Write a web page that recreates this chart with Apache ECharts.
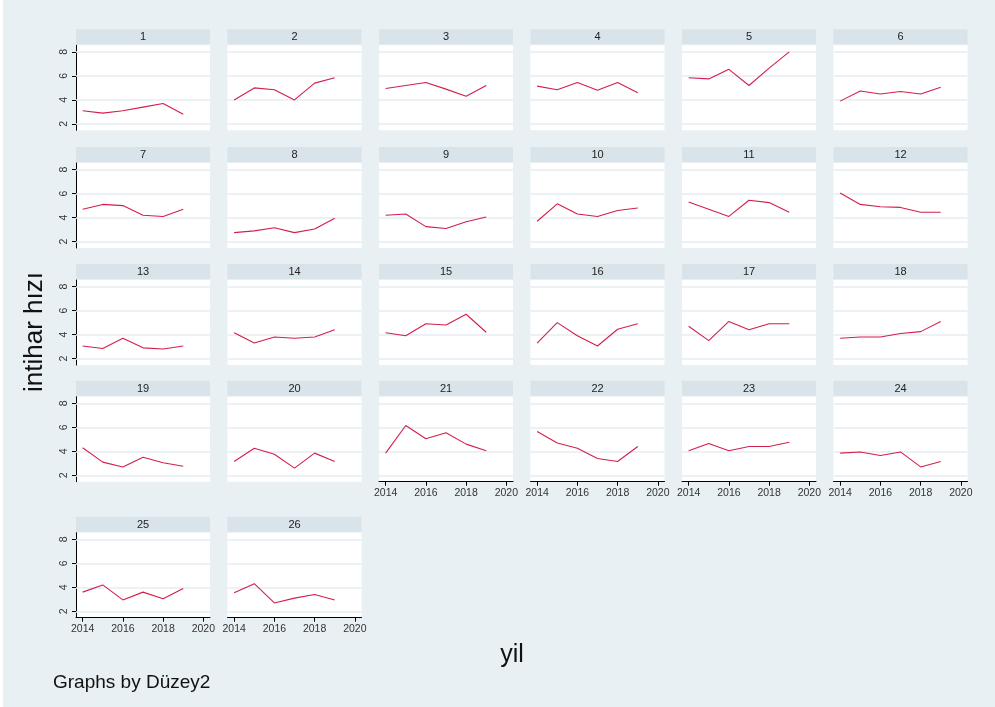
<!DOCTYPE html>
<html>
<head>
<meta charset="utf-8">
<script src="https://cdn.jsdelivr.net/npm/echarts@6/dist/echarts.min.js"></script>
<style>
html,body{margin:0;padding:0;background:#ffffff;}
#wrap{position:absolute;left:3px;top:0;width:992px;height:707px;background:#e8f0f3;}
#chart{width:992px;height:707px;}
</style>
</head>
<body>
<div id="wrap"><div id="chart"></div></div>
<script>
// ---- data ----
const years = [2014, 2015, 2016, 2017, 2018, 2019];
const panelLabels = ["1","2","3","4","5","6","7","8","9","10","11","12","13","14","15","16","17","18","19","20","21","22","23","24","25","26"];
const p1  = [3.1, 2.9, 3.1, 3.4, 3.7, 2.8];
const p2  = [4.0, 5.0, 4.85, 4.0, 5.4, 5.85];
const p3  = [4.95, 5.2, 5.45, 4.9, 4.3, 5.2];
const p4  = [5.15, 4.85, 5.45, 4.8, 5.45, 4.6];
const p5  = [5.85, 5.75, 6.55, 5.2, 6.65, 8.0];
const p6  = [3.9, 4.75, 4.5, 4.7, 4.5, 5.05];
const p7  = [4.7, 5.1, 5.0, 4.2, 4.1, 4.7];
const p8  = [2.75, 2.9, 3.15, 2.75, 3.05, 3.95];
const p9  = [4.2, 4.3, 3.25, 3.1, 3.65, 4.05];
const p10 = [3.7, 5.15, 4.3, 4.1, 4.6, 4.8];
const p11 = [5.3, 4.7, 4.1, 5.45, 5.25, 4.45];
const p12 = [6.05, 5.1, 4.9, 4.85, 4.45, 4.45];
const p13 = [3.05, 2.85, 3.7, 2.9, 2.8, 3.05];
const p14 = [4.15, 3.3, 3.8, 3.7, 3.8, 4.4];
const p15 = [4.15, 3.9, 4.9, 4.8, 5.7, 4.2];
const p16 = [3.3, 5.0, 3.9, 3.05, 4.45, 4.9];
const p17 = [4.7, 3.5, 5.1, 4.4, 4.9, 4.9];
const p18 = [3.7, 3.8, 3.8, 4.1, 4.25, 5.1];
const p19 = [4.3, 3.1, 2.7, 3.5, 3.05, 2.75];
const p20 = [3.15, 4.25, 3.75, 2.6, 3.85, 3.15];
const p21 = [3.85, 6.15, 5.05, 5.55, 4.6, 4.05];
const p22 = [5.65, 4.7, 4.25, 3.4, 3.15, 4.4];
const p23 = [4.05, 4.65, 4.05, 4.4, 4.4, 4.75];
const p24 = [3.85, 3.95, 3.65, 3.95, 2.7, 3.15];
const p25 = [3.6, 4.2, 2.95, 3.6, 3.05, 3.9];
const p26 = [3.55, 4.3, 2.7, 3.1, 3.4, 2.95];
const panelValues = [p1,p2,p3,p4,p5,p6,p7,p8,p9,p10,p11,p12,p13,p14,p15,p16,p17,p18,p19,p20,p21,p22,p23,p24,p25,p26];
const yTicks = [2, 4, 6, 8];
const xTicks = [2014, 2016, 2018, 2020];
const yTitle = "intihar hızı";
const xTitle = "yil";
const note = "Graphs by Düzey2";

// ---- layout ----
const colLeft = [73, 224.5, 376, 527.5, 679, 830.5];
const rowTop = [29.3, 147, 264, 380.7, 516.7];
const W = 134, HDR = 15, PH = 85;
const lineColor = '#d31f4b';
const gridColor = '#e4ecf0';
const textColor = '#333333';
const FONT = 'Liberation Sans, Arial, sans-serif';

const grids = [], xAxes = [], yAxes = [], series = [], graphics = [];
const xLabelPanels = [20,21,22,23,24,25];

panelValues.forEach((vals, i) => {
  const r = Math.floor(i / 6), c = i % 6;
  const left = colLeft[c], top = rowTop[r];
  grids.push({left: left, top: top + HDR + 1, width: W, height: PH,
    show: true, backgroundColor: '#ffffff', borderWidth: 0, containLabel: false});
  const showX = xLabelPanels.indexOf(i) >= 0;
  const showY = c === 0;
  xAxes.push({type: 'value', gridIndex: i, min: 2013.67, max: 2020.33,
    show: showX,
    axisLine: {show: true, onZero: false, lineStyle: {color: '#000', width: 1}},
    axisTick: {show: true, length: 4, customValues: xTicks, lineStyle: {color: '#000'}},
    axisLabel: {show: true, customValues: xTicks, margin: 6, fontSize: 10.5, color: textColor, fontFamily: FONT,
      formatter: v => String(Math.round(v))},
    splitLine: {show: false}});
  yAxes.push({type: 'value', gridIndex: i, min: 1.47, max: 8.55,
    show: showY,
    axisLine: {show: true, lineStyle: {color: '#000', width: 1}},
    axisTick: {show: true, length: 4, customValues: yTicks, lineStyle: {color: '#000'}},
    axisLabel: {show: true, customValues: yTicks, rotate: 90, margin: 6, fontSize: 10.5, color: textColor, fontFamily: FONT,
      formatter: v => String(Math.round(v))},
    splitLine: {show: false}});
  // gridlines (below the data line)
  series.push({type: 'line', xAxisIndex: i, yAxisIndex: i, data: [],
    silent: true, animation: false, z: 1,
    markLine: {silent: true, symbol: 'none', animation: false, label: {show: false}, z: 1,
      lineStyle: {color: gridColor, width: 1.5, type: 'solid'},
      data: yTicks.map(t => ({yAxis: t}))}});
  series.push({type: 'line', xAxisIndex: i, yAxisIndex: i,
    data: years.map((y, k) => [y, vals[k]]),
    showSymbol: false, symbol: 'none', silent: true, animation: false,
    lineStyle: {color: lineColor, width: 1.1}, z: 5});
  graphics.push({type: 'rect', left: left, top: top, shape: {width: W, height: HDR},
    style: {fill: '#d8e4ea'}, silent: true});
  graphics.push({type: 'text', x: left + W / 2, y: top + HDR / 2 + 0.5,
    style: {text: panelLabels[i], fill: '#222', fontSize: 11, fontFamily: FONT, align: 'center', verticalAlign: 'middle'}, silent: true});
});

graphics.push({type: 'text', x: 32, y: 332, rotation: Math.PI / 2,
  style: {text: yTitle, fill: '#111', fontSize: 26, fontFamily: FONT, align: 'center', verticalAlign: 'middle'}});
graphics.push({type: 'text', x: 509, y: 655,
  style: {text: xTitle, fill: '#111', fontSize: 25, fontFamily: FONT, align: 'center', verticalAlign: 'middle'}});
graphics.push({type: 'text', x: 50, y: 683,
  style: {text: note, fill: '#111', fontSize: 19, fontFamily: FONT, align: 'left', verticalAlign: 'middle'}});

const chart = echarts.init(document.getElementById('chart'), null, {renderer: 'canvas'});
chart.setOption({
  animation: false,
  backgroundColor: 'transparent',
  grid: grids, xAxis: xAxes, yAxis: yAxes, series: series, graphic: graphics
});
</script>
</body>
</html>
